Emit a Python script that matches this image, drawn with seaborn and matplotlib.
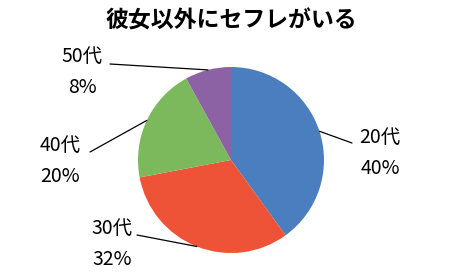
import numpy as np
import matplotlib
matplotlib.use("Agg")
import matplotlib.pyplot as plt
import seaborn as sns

# data
categories = ["20代", "30代", "40代", "50代"]
values = [40, 32, 20, 8]
pct_labels = ["40%", "32%", "20%", "8%"]
title = "彼女以外にセフレがいる"

sns.set_theme(style="white")
plt.rcParams['font.family'] = ['Noto Sans CJK JP', 'DejaVu Sans']

colors = ["#4A7EBF", "#EE5237", "#7CB85C", "#8C62A4"]

W, H = 455, 277
fig = plt.figure(figsize=(W / 100, H / 100), dpi=100)
ax = fig.add_axes([0, 0, 1, 1])

cx, cy, r = 231, 160, 93  # pixel layout (y from top)
wedges, _ = ax.pie(values, colors=colors, startangle=90, counterclock=False,
                   center=(cx, H - cy), radius=r,
                   wedgeprops=dict(linewidth=0))
ax.set_xlim(0, W)
ax.set_ylim(0, H)
ax.set_aspect('auto')
ax.axis('off')

# label layout (pixel coords, y from top): text centre, leader end
text_pos = [(380, 153), (112, 244), (60, 161), (82, 72)]
leader_end = [(352, 143), (137, 235), (90, 152), (110, 64)]

for w, cat, pct, tp, le in zip(wedges, categories, pct_labels, text_pos, leader_end):
    ang = np.deg2rad((w.theta1 + w.theta2) / 2)
    ex = cx + r * np.cos(ang)
    ey = (H - cy) + r * np.sin(ang)
    ax.plot([ex, le[0]], [ey, H - le[1]], color="black", lw=0.9)
    ax.text(tp[0], H - tp[1], f"{cat}\n{pct}", ha="center", va="center",
            fontsize=14, linespacing=1.65, color="black")

fig.text(231 / W, 1 - 21 / H, title, ha="center", va="center",
         fontsize=16.5, fontweight="bold", color="black")

fig.savefig("out.png", dpi=100, facecolor="white")
